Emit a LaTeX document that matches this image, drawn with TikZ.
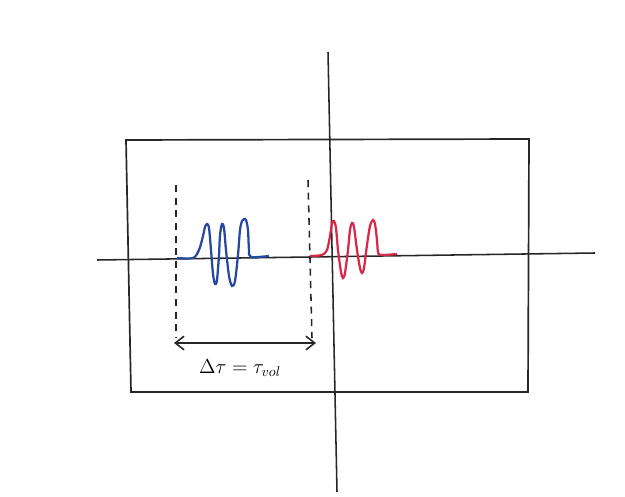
\documentclass[tikz,border=0pt]{standalone}
\usepackage{amsmath}
\usepackage{tikz}
\usetikzlibrary{arrows.meta,positioning}
\definecolor{pulseblue}{RGB}{38,72,160}
\definecolor{pulsered}{RGB}{214,42,72}
\tikzset{
  frame/.style={line width=1.2pt, black!85},
  axis/.style={line width=1.1pt, black!85},
  mark line/.style={line width=1.1pt, black!85, dash pattern=on 5pt off 4pt},
  delay/.style={{Straight Barb[length=2.2mm,width=3.4mm]}-{Straight Barb[length=2.2mm,width=3.4mm]}, line width=1.1pt, black!85},
  pulse/.style={line width=1.6pt, smooth, tension=0.5},
  lbl/.style={font=\fontsize{14}{16}\selectfont},
}
\begin{document}
\begin{tikzpicture}[x=0.025cm,y=-0.025cm]
  \useasboundingbox (0,0) rectangle (625,497);
  % window
  \draw[frame] (126,140) -- (529,139) -- (528,392) -- (131,392) -- cycle;
  % axes
  \coordinate (hl) at (97,260);  \coordinate (hr) at (595,253);
  \coordinate (vt) at (328,52);  \coordinate (vb) at (337,492);
  \draw[axis] (hl) -- (hr);
  \draw[axis] (vt) -- (vb);
  % pulse markers
  \coordinate (ltop) at (176,185); \coordinate (lbot) at (176,338);
  \coordinate (rtop) at (308,180); \coordinate (rbot) at (312,338);
  \draw[mark line] (ltop) -- (lbot);
  \draw[mark line] (rtop) -- (rbot);
  % delay
  \coordinate (al) at (174,343); \coordinate (ar) at (316,343);
  \draw[delay] (al) -- (ar);
  \node[lbl] (dt) at (240,368) {$\Delta\tau = \tau_{vol}$};
  % emitted pulse
  \draw[pulse, pulseblue] plot coordinates {(177,258) (193,258) (199,250) (203,236) (205,227)
    (207,224) (209,228) (211,250) (213,274) (215,284) (217,280) (219,255) (220,235)
    (222,224) (224,228) (226,250) (229,276) (232,286) (235,281) (238,255) (240,230)
    (242,221) (244,219) (246,220) (248,230) (249,250) (251,257) (269,256)};
  % received pulse
  \draw[pulse, pulsered] plot coordinates {(310,256) (322,255) (327,250) (330,236)
    (332,223) (334,221) (336,228) (338,250) (341,272) (343,278) (345,273) (348,250)
    (350,230) (352,223) (354,227) (357,250) (360,268) (362,273) (364,268) (367,245)
    (370,226) (373,220) (375,224) (377,240) (378,252) (381,255) (397,254)};
\end{tikzpicture}
\end{document}
